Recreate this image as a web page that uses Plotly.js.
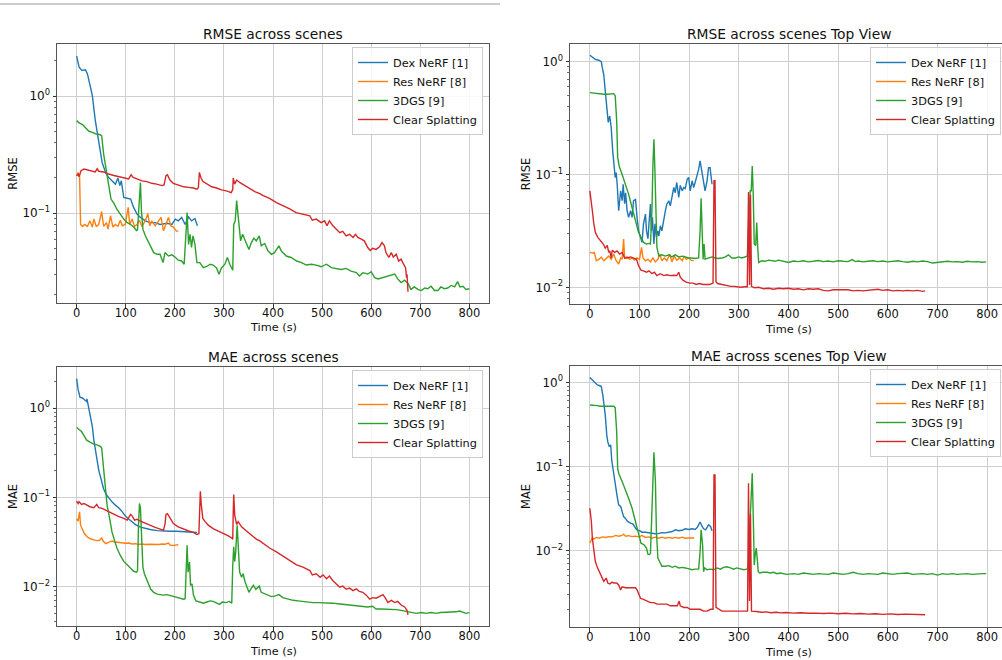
<!DOCTYPE html>
<html>
<head>
<meta charset="utf-8">
<script src="https://cdn.plot.ly/plotly-3.0.1.min.js"></script>
<style>
html,body{margin:0;padding:0;overflow:hidden;background:#fff;}
#chart{width:1012px;height:660px;}
</style>
</head>
<body>
<div id="chart"></div>
<script>
// ---------- Data (time in s, value) ----------
const seriesNames = ["Dex NeRF [1]", "Res NeRF [8]", "3DGS [9]", "Clear Splatting"];
const seriesColors = ["#1f77b4", "#ff7f0e", "#2ca02c", "#d62728"];
const panelTitles = ["RMSE across scenes", "RMSE across scenes Top View", "MAE across scenes", "MAE across scenes Top View"];
const panelYLabels = ["RMSE", "RMSE", "MAE", "MAE"];
const xLabel = "Time (s)";
const xTickVals = [0, 100, 200, 300, 400, 500, 600, 700, 800];
const yTickVals = [0.01, 0.1, 1];
const yTickText = ["10<sup>−2</sup>", "10<sup>−1</sup>", "10<sup>0</sup>"];

// RMSE across scenes
const rmseDex = [[0,2.2],[5,1.77],[11,1.66],[18,1.68],[22,1.55],[27,1.28],[32,1.01],[38,0.62],[45,0.39],[52,0.27],[59,0.223],[65,0.202],[72,0.189],[79,0.177],[84,0.2],[88,0.172],[91,0.189],[96,0.136],[103,0.134],[110,0.132],[116,0.112],[123,0.098],[130,0.092],[140,0.086],[150,0.083],[160,0.083],[170,0.080],[184,0.082],[194,0.080],[201,0.089],[207,0.086],[214,0.092],[221,0.080],[228,0.093],[234,0.086],[241,0.090],[246,0.078]];
const rmseRes = [[0,0.209],[3,0.223],[6,0.209],[8,0.08],[12,0.077],[16,0.08],[22,0.077],[27,0.086],[32,0.076],[35,0.089],[40,0.077],[45,0.08],[51,0.103],[55,0.077],[61,0.083],[64,0.073],[69,0.095],[74,0.076],[79,0.08],[84,0.077],[89,0.087],[93,0.078],[99,0.08],[105,0.112],[108,0.08],[113,0.089],[118,0.077],[123,0.08],[128,0.087],[133,0.077],[140,0.086],[145,0.099],[149,0.078],[153,0.086],[160,0.078],[167,0.086],[172,0.092],[177,0.0706],[182,0.08],[187,0.092],[192,0.078],[197,0.076],[203,0.0706],[207,0.0698]];
const rmse3dgs = [[0,0.618],[5,0.59],[12,0.571],[18,0.542],[25,0.501],[32,0.49],[40,0.475],[47,0.47],[51,0.46],[55,0.32],[60,0.231],[66,0.155],[70,0.132],[76,0.121],[82,0.108],[89,0.098],[96,0.089],[103,0.083],[110,0.08],[116,0.076],[122,0.071],[124,0.072],[127,0.128],[130,0.183],[132,0.105],[135,0.073],[140,0.064],[145,0.058],[150,0.054],[157,0.046],[164,0.0445],[170,0.0445],[176,0.0378],[180,0.046],[187,0.043],[194,0.044],[201,0.042],[207,0.0396],[214,0.039],[219,0.0366],[223,0.0706],[225,0.101],[228,0.054],[231,0.066],[234,0.051],[237,0.064],[241,0.054],[245,0.0378],[251,0.0378],[258,0.0342],[265,0.035],[272,0.0366],[278,0.036],[285,0.034],[290,0.030],[295,0.034],[302,0.0366],[307,0.0417],[312,0.0366],[318,0.0325],[320,0.08],[323,0.086],[326,0.128],[330,0.086],[334,0.058],[338,0.066],[343,0.058],[347,0.054],[351,0.049],[356,0.056],[361,0.061],[366,0.058],[372,0.064],[376,0.0525],[383,0.055],[390,0.0475],[397,0.0445],[403,0.046],[412,0.0525],[417,0.0475],[427,0.043],[437,0.0418],[448,0.039],[458,0.0378],[468,0.036],[478,0.0366],[488,0.036],[498,0.0348],[509,0.0366],[519,0.0342],[529,0.0337],[539,0.033],[549,0.0337],[559,0.032],[570,0.031],[576,0.029],[583,0.031],[593,0.0302],[600,0.0316],[607,0.0281],[614,0.0274],[620,0.0278],[627,0.0286],[637,0.029],[648,0.0302],[654,0.0274],[661,0.0255],[668,0.0267],[675,0.0251],[681,0.0223],[688,0.0234],[695,0.0223],[702,0.0218],[709,0.0229],[715,0.0226],[722,0.0237],[729,0.0218],[736,0.0218],[742,0.0234],[749,0.0226],[756,0.0229],[763,0.0241],[770,0.0234],[776,0.026],[781,0.0234],[787,0.0237],[793,0.0223],[800,0.0226]];
const rmseClear = [[0,0.209],[3,0.216],[5,0.205],[9,0.231],[15,0.238],[22,0.234],[32,0.228],[38,0.225],[42,0.24],[45,0.228],[55,0.225],[65,0.216],[76,0.21],[86,0.205],[96,0.2],[106,0.196],[111,0.213],[115,0.202],[123,0.196],[133,0.189],[143,0.186],[153,0.18],[163,0.177],[174,0.172],[178,0.174],[182,0.209],[185,0.213],[190,0.192],[197,0.18],[207,0.174],[218,0.168],[228,0.166],[238,0.164],[245,0.16],[248,0.165],[250,0.223],[253,0.202],[257,0.187],[265,0.177],[275,0.168],[285,0.164],[295,0.158],[305,0.155],[315,0.15],[318,0.16],[319,0.2],[322,0.177],[326,0.192],[332,0.183],[342,0.172],[353,0.163],[363,0.153],[373,0.147],[380,0.141],[393,0.134],[407,0.123],[420,0.116],[434,0.109],[447,0.101],[461,0.098],[475,0.095],[480,0.087],[488,0.089],[498,0.083],[505,0.086],[510,0.078],[515,0.086],[522,0.078],[529,0.0731],[536,0.068],[542,0.0698],[549,0.064],[556,0.066],[563,0.062],[568,0.066],[573,0.062],[580,0.06],[586,0.058],[593,0.0508],[598,0.048],[603,0.05],[610,0.049],[617,0.0515],[622,0.056],[627,0.0525],[630,0.046],[636,0.0418],[641,0.046],[645,0.0422],[651,0.0445],[656,0.039],[661,0.0405],[666,0.0366],[670,0.0342],[672,0.0281],[673,0.030],[675,0.0213]];

// RMSE across scenes Top View
const rmseTopDex = [[0,1.14],[5,1.1],[11,1.05],[18,1.03],[23,1.0],[25,0.885],[28,0.77],[31,0.55],[35,0.37],[37,0.29],[40,0.33],[43,0.26],[46,0.162],[48,0.137],[51,0.094],[53,0.104],[55,0.082],[58,0.0477],[62,0.0717],[65,0.0585],[67,0.082],[70,0.055],[72,0.069],[75,0.0477],[78,0.0417],[82,0.0477],[85,0.0417],[88,0.0585],[92,0.06],[95,0.0417],[98,0.0317],[102,0.0277],[105,0.025],[108,0.0365],[112,0.0446],[114,0.0317],[117,0.027],[119,0.0365],[122,0.0546],[124,0.0317],[126,0.0417],[129,0.0242],[131,0.0365],[134,0.0277],[137,0.0317],[139,0.0285],[142,0.0351],[145,0.0317],[149,0.0417],[152,0.0477],[155,0.0546],[159,0.0585],[162,0.0528],[165,0.0626],[169,0.0767],[172,0.069],[175,0.085],[179,0.0626],[182,0.08],[186,0.0717],[189,0.0767],[192,0.075],[196,0.091],[199,0.094],[202,0.0717],[206,0.088],[209,0.0767],[212,0.085],[216,0.097],[219,0.111],[222,0.132],[226,0.104],[229,0.082],[232,0.0717],[236,0.088],[239,0.115],[242,0.115],[246,0.082]];
const rmseTopRes = [[0,0.0204],[5,0.0201],[9,0.0204],[13,0.0172],[18,0.0177],[23,0.0185],[28,0.0172],[33,0.0182],[38,0.0189],[43,0.0177],[48,0.0197],[53,0.0172],[58,0.0161],[62,0.0182],[65,0.0177],[68,0.0268],[70,0.0182],[75,0.0186],[80,0.0177],[85,0.0182],[90,0.0174],[95,0.0182],[100,0.0177],[104,0.0226],[107,0.0182],[112,0.0172],[117,0.0177],[122,0.0168],[127,0.0182],[132,0.0168],[137,0.0177],[141,0.0197],[145,0.0172],[150,0.0182],[155,0.0172],[161,0.0197],[165,0.0168],[170,0.0189],[175,0.0174],[181,0.0182],[186,0.0172],[190,0.0189],[194,0.0177],[199,0.0182],[204,0.0174],[209,0.0172]];
const rmseTop3dgs = [[0,0.532],[8,0.525],[15,0.521],[21,0.514],[28,0.514],[35,0.514],[41,0.514],[48,0.521],[51,0.5],[54,0.3],[56,0.142],[59,0.119],[65,0.1],[72,0.082],[78,0.067],[85,0.051],[92,0.039],[98,0.0307],[103,0.0277],[108,0.025],[114,0.0242],[119,0.0245],[122,0.0242],[125,0.0477],[127,0.123],[129,0.205],[131,0.108],[133,0.0417],[135,0.0226],[139,0.0189],[145,0.0194],[152,0.0189],[159,0.0194],[165,0.0186],[172,0.0194],[179,0.0186],[186,0.0189],[192,0.0186],[199,0.0182],[206,0.0182],[212,0.018],[219,0.0182],[222,0.0317],[224,0.0617],[226,0.0317],[228,0.0177],[230,0.0242],[232,0.0177],[239,0.0182],[246,0.0186],[253,0.0182],[259,0.018],[266,0.0182],[273,0.0186],[279,0.0194],[286,0.0182],[293,0.0182],[300,0.0186],[306,0.0182],[313,0.0186],[317,0.0189],[320,0.039],[323,0.0717],[325,0.0717],[327,0.119],[329,0.067],[331,0.0242],[334,0.0235],[336,0.0376],[338,0.0226],[340,0.0166],[346,0.0172],[353,0.017],[360,0.0174],[366,0.0172],[373,0.017],[380,0.0174],[387,0.0172],[393,0.017],[400,0.0166],[410,0.0171],[420,0.0169],[430,0.0172],[440,0.0168],[450,0.017],[460,0.0173],[470,0.0169],[480,0.0171],[490,0.0168],[500,0.0172],[510,0.017],[520,0.0169],[528,0.0176],[535,0.0169],[540,0.0171],[550,0.0168],[560,0.017],[570,0.0172],[580,0.0169],[590,0.0171],[600,0.0168],[610,0.017],[620,0.0172],[630,0.0169],[640,0.0167],[650,0.017],[660,0.0168],[670,0.0171],[680,0.0169],[690,0.0164],[700,0.0166],[710,0.0168],[720,0.017],[730,0.0168],[740,0.0169],[750,0.0167],[760,0.017],[770,0.0168],[780,0.0169],[790,0.0167],[798,0.0168]];
const rmseTopClear = [[0,0.0717],[3,0.0585],[5,0.0477],[8,0.0365],[11,0.0307],[16,0.0277],[21,0.0259],[27,0.0242],[31,0.0222],[35,0.0235],[38,0.0204],[40,0.021],[43,0.0182],[45,0.0213],[50,0.0204],[55,0.021],[60,0.0197],[65,0.0204],[70,0.0182],[75,0.0182],[82,0.0186],[88,0.0182],[94,0.0177],[98,0.0155],[103,0.0142],[108,0.014],[114,0.0136],[119,0.014],[125,0.0132],[130,0.0136],[135,0.0127],[142,0.0132],[149,0.0127],[155,0.0129],[162,0.0127],[169,0.0128],[175,0.0127],[179,0.0136],[182,0.0123],[188,0.0115],[194,0.0111],[201,0.0109],[208,0.0109],[214,0.0106],[221,0.0108],[228,0.0106],[234,0.0106],[241,0.0106],[248,0.0109],[250,0.088],[252,0.088],[254,0.0112],[257,0.0108],[264,0.0106],[271,0.0104],[277,0.0103],[284,0.0102],[291,0.0102],[297,0.0101],[304,0.01],[311,0.0101],[317,0.0101],[319.5,0.07],[321.5,0.0105],[323.5,0.066],[325.5,0.0102],[332,0.0099],[340,0.01],[350,0.0097],[360,0.0098],[370,0.0096],[380,0.0098],[390,0.0097],[400,0.0098],[410,0.0096],[420,0.0097],[430,0.0095],[440,0.0097],[450,0.0096],[460,0.0097],[470,0.0094],[480,0.0093],[490,0.0095],[500,0.0095],[510,0.0094],[520,0.0095],[530,0.0093],[540,0.0094],[550,0.0093],[560,0.0094],[570,0.0095],[580,0.0096],[590,0.0094],[600,0.0095],[610,0.0093],[620,0.0094],[630,0.0093],[640,0.0094],[650,0.0093],[660,0.0094],[670,0.0092],[675,0.0093]];

// MAE across scenes
const maeDex = [[0,2.14],[3,1.61],[7,1.32],[12,1.3],[16,1.24],[20,1.19],[21,1.27],[25,1.0],[28,0.841],[32,0.622],[35,0.44],[39,0.325],[42,0.251],[45,0.202],[49,0.166],[52,0.143],[55,0.124],[61,0.106],[66,0.097],[72,0.089],[79,0.0817],[86,0.076],[93,0.0687],[99,0.062],[106,0.057],[113,0.053],[120,0.0495],[130,0.0462],[140,0.0445],[150,0.0435],[164,0.0423],[177,0.0416],[190,0.0416],[204,0.0416],[218,0.041],[231,0.041],[245,0.0403]];
const maeRes = [[0,0.0578],[3,0.054],[5,0.064],[6,0.0686],[8,0.0487],[12,0.0427],[16,0.039],[22,0.0359],[28,0.0343],[35,0.0333],[42,0.0327],[47,0.033],[51,0.035],[54,0.0323],[59,0.0302],[66,0.0315],[72,0.0323],[79,0.0315],[86,0.031],[93,0.031],[99,0.0305],[106,0.0307],[113,0.03],[120,0.0302],[126,0.0296],[133,0.03],[140,0.0296],[147,0.0298],[153,0.0296],[160,0.0298],[167,0.0296],[174,0.03],[180,0.0298],[187,0.0307],[191,0.0289],[197,0.0289],[203,0.0294],[207,0.0294]];
const mae3dgs = [[0,0.606],[5,0.57],[10,0.546],[15,0.492],[20,0.44],[27,0.415],[35,0.394],[42,0.387],[49,0.37],[51,0.355],[55,0.194],[59,0.115],[62,0.0817],[66,0.063],[69,0.0508],[72,0.0409],[76,0.0344],[82,0.027],[89,0.0223],[96,0.0191],[103,0.0175],[110,0.0161],[116,0.0148],[122,0.0145],[124,0.015],[126,0.0486],[128,0.0853],[130,0.075],[132,0.0316],[135,0.0164],[138,0.0139],[142,0.0122],[147,0.0103],[151,0.0093],[157,0.0086],[164,0.0082],[170,0.0081],[177,0.008],[184,0.0081],[191,0.0079],[197,0.0077],[204,0.0075],[211,0.0074],[218,0.0072],[221,0.0073],[223,0.0172],[225,0.029],[227,0.0145],[230,0.0188],[232,0.0103],[235,0.0107],[238,0.008],[243,0.0069],[251,0.0067],[258,0.0065],[265,0.0067],[272,0.0069],[278,0.0068],[285,0.0065],[291,0.0063],[297,0.0067],[304,0.0066],[311,0.0068],[316,0.0065],[318,0.0172],[320,0.0279],[322,0.019],[324,0.0243],[327,0.0486],[330,0.0243],[332,0.0145],[336,0.0127],[339,0.0139],[343,0.0113],[347,0.0096],[351,0.0086],[355,0.0094],[360,0.0103],[365,0.0093],[370,0.0099],[372,0.0101],[376,0.0086],[383,0.0083],[390,0.008],[397,0.0077],[403,0.0078],[412,0.0081],[420,0.0075],[431,0.0072],[441,0.007],[451,0.0069],[461,0.0068],[471,0.0066],[481,0.0066],[492,0.0066],[502,0.0066],[512,0.0065],[522,0.0065],[532,0.0064],[542,0.0063],[553,0.0062],[563,0.0061],[573,0.0061],[583,0.006],[593,0.0059],[603,0.006],[610,0.0056],[620,0.0056],[631,0.0056],[641,0.0055],[651,0.0055],[661,0.0054],[671,0.0053],[681,0.0052],[692,0.005],[702,0.0051],[712,0.005],[722,0.0051],[732,0.005],[742,0.0051],[753,0.0051],[763,0.0051],[773,0.0052],[780,0.0053],[787,0.0051],[793,0.005],[800,0.0051]];
const maeClear = [[0,0.0906],[3,0.0852],[5,0.0892],[10,0.0833],[15,0.0852],[20,0.0817],[27,0.0784],[35,0.0764],[41,0.0833],[45,0.0764],[52,0.0751],[59,0.072],[66,0.0687],[76,0.0644],[86,0.0606],[96,0.058],[103,0.0555],[110,0.0644],[113,0.062],[118,0.0555],[123,0.0567],[130,0.0539],[140,0.0508],[150,0.0487],[160,0.0459],[170,0.044],[177,0.0428],[180,0.05],[182,0.0644],[185,0.0657],[191,0.058],[197,0.0508],[207,0.0467],[218,0.044],[228,0.0419],[238,0.0404],[245,0.0383],[249,0.039],[250,0.0534],[252,0.117],[254,0.0817],[257,0.058],[262,0.0534],[268,0.0487],[278,0.0446],[289,0.0419],[299,0.0394],[309,0.0369],[316,0.035],[318,0.0338],[319,0.0687],[320,0.1076],[322,0.063],[326,0.0495],[329,0.0534],[336,0.0467],[346,0.0419],[356,0.0378],[366,0.034],[373,0.0325],[380,0.0302],[393,0.027],[407,0.0244],[420,0.0221],[434,0.0196],[448,0.0175],[461,0.0165],[475,0.0151],[480,0.0135],[488,0.0139],[496,0.0127],[502,0.0135],[509,0.0122],[515,0.0131],[522,0.0116],[529,0.0107],[536,0.0098],[542,0.0101],[549,0.0093],[556,0.0096],[563,0.009],[570,0.0094],[576,0.0088],[583,0.0086],[590,0.008],[597,0.0072],[603,0.0075],[610,0.0074],[617,0.0077],[624,0.0081],[629,0.0074],[634,0.0066],[641,0.007],[648,0.0066],[654,0.0068],[661,0.0062],[668,0.0059],[673,0.0054],[675,0.0048]];

// MAE across scenes Top View
const maeTopDex = [[0,1.14],[5,1.07],[9,1.0],[15,0.93],[20,0.91],[23,0.89],[26,0.707],[28,0.589],[31,0.41],[34,0.237],[36,0.197],[39,0.172],[42,0.18],[44,0.119],[47,0.087],[50,0.069],[52,0.055],[55,0.0438],[58,0.0349],[62,0.0334],[65,0.029],[68,0.0253],[72,0.0239],[76,0.0222],[82,0.0212],[87,0.0206],[92,0.0184],[95,0.0176],[101,0.0171],[105,0.0165],[112,0.0165],[119,0.0162],[125,0.016],[132,0.0158],[139,0.016],[145,0.0163],[152,0.0162],[159,0.0165],[166,0.0168],[172,0.0176],[179,0.0172],[186,0.0174],[192,0.0181],[199,0.0178],[206,0.0181],[212,0.0178],[216,0.0187],[219,0.0202],[222,0.0218],[226,0.0193],[229,0.0181],[233,0.0176],[236,0.0193],[239,0.0202],[243,0.0193],[246,0.0171]];
const maeTopRes = [[0,0.0122],[3,0.0133],[5,0.0143],[8,0.0137],[13,0.0143],[19,0.014],[25,0.0145],[32,0.0143],[38,0.0146],[45,0.0145],[52,0.0151],[58,0.0148],[65,0.0151],[68,0.0156],[72,0.0148],[78,0.015],[85,0.0146],[92,0.0148],[99,0.0145],[105,0.0151],[112,0.0143],[119,0.0145],[125,0.014],[132,0.0144],[139,0.014],[145,0.0144],[152,0.014],[159,0.0143],[166,0.014],[172,0.0143],[179,0.014],[186,0.0144],[192,0.014],[199,0.0141],[206,0.014],[210,0.0141]];
const maeTop3dgs = [[0,0.538],[8,0.538],[15,0.528],[21,0.519],[28,0.519],[35,0.514],[42,0.519],[48,0.519],[51,0.5],[54,0.26],[56,0.095],[58,0.083],[65,0.066],[72,0.0526],[78,0.0419],[85,0.0318],[92,0.0221],[99,0.0153],[103,0.0122],[109,0.0117],[114,0.0107],[117,0.009],[119,0.0089],[122,0.0092],[125,0.0349],[127,0.087],[129,0.147],[132,0.066],[134,0.0168],[137,0.0081],[141,0.0071],[145,0.0065],[152,0.0065],[159,0.0066],[166,0.0063],[172,0.0065],[179,0.0062],[186,0.0063],[192,0.0062],[199,0.006],[206,0.0059],[212,0.006],[219,0.006],[222,0.0097],[224,0.0176],[227,0.0117],[229,0.0056],[231,0.0062],[236,0.0059],[243,0.006],[249,0.0059],[256,0.0062],[263,0.006],[269,0.0063],[276,0.0064],[283,0.0062],[289,0.006],[296,0.0062],[303,0.006],[310,0.0059],[316,0.006],[319,0.0063],[321,0.014],[323,0.029],[325,0.05],[327,0.083],[329,0.0263],[331,0.0067],[333,0.0089],[335,0.0107],[337,0.0081],[339,0.0056],[342,0.0054],[348,0.0055],[357,0.0055],[363,0.0054],[370,0.0055],[377,0.0053],[383,0.0054],[390,0.0053],[397,0.0052],[410,0.0053],[420,0.0052],[430,0.0054],[440,0.0053],[450,0.0052],[460,0.0053],[470,0.0053],[480,0.0052],[490,0.0054],[500,0.0053],[510,0.0052],[520,0.0053],[530,0.0055],[540,0.0053],[550,0.0052],[560,0.0053],[570,0.0053],[580,0.0052],[590,0.0054],[600,0.0053],[610,0.0052],[620,0.0053],[630,0.0053],[640,0.0054],[650,0.0052],[660,0.0053],[670,0.0053],[680,0.0052],[690,0.0053],[700,0.0051],[710,0.0053],[720,0.0052],[730,0.0053],[740,0.0052],[750,0.0053],[760,0.0053],[770,0.0052],[780,0.0053],[790,0.0053],[798,0.0053]];
const maeTopClear = [[0,0.0318],[3,0.0221],[5,0.014],[8,0.0097],[11,0.0074],[15,0.0063],[20,0.0054],[25,0.0047],[28,0.0043],[33,0.0047],[36,0.0041],[40,0.004],[45,0.0042],[48,0.0041],[54,0.0041],[58,0.0039],[62,0.0034],[65,0.0037],[72,0.0036],[78,0.0036],[85,0.0036],[92,0.0036],[95,0.0034],[99,0.003],[102,0.0027],[109,0.0026],[115,0.0025],[122,0.0024],[129,0.0024],[135,0.0023],[142,0.0023],[149,0.0023],[155,0.0023],[162,0.0022],[169,0.0022],[176,0.0022],[180,0.0025],[182,0.0022],[189,0.0021],[196,0.0021],[202,0.002],[209,0.002],[216,0.002],[222,0.002],[229,0.0019],[236,0.0019],[243,0.002],[248,0.002],[250,0.079],[252,0.079],[254,0.0021],[259,0.002],[266,0.0019],[273,0.0019],[279,0.0019],[286,0.0019],[293,0.0019],[300,0.0019],[306,0.0019],[313,0.0019],[317.5,0.0019],[319.5,0.063],[321.5,0.0025],[323.5,0.027],[325.5,0.0019],[335,0.00188],[345,0.00184],[355,0.00186],[365,0.00182],[375,0.00184],[385,0.00181],[395,0.00183],[410,0.0018],[425,0.00182],[440,0.00179],[455,0.0018],[470,0.00178],[485,0.0018],[500,0.00177],[515,0.00179],[530,0.00176],[545,0.00178],[560,0.00175],[575,0.00177],[590,0.00174],[605,0.00176],[620,0.00173],[635,0.00175],[650,0.00174],[665,0.00172],[675,0.00172]];

const panelData = [
  [rmseDex, rmseRes, rmse3dgs, rmseClear],
  [rmseTopDex, rmseTopRes, rmseTop3dgs, rmseTopClear],
  [maeDex, maeRes, mae3dgs, maeClear],
  [maeTopDex, maeTopRes, maeTop3dgs, maeTopClear]
];

// ---------- Layout geometry (pixels in a 1012x660 canvas) ----------
const W = 1012, H = 660;
const FONT = "DejaVu Sans, Liberation Sans, sans-serif";
const TXT = "#111";
const boxes = [
  {l:57,  r:489,  t:44,  b:303, yr:[-1.768, 0.446], xt:327},
  {l:570, r:1007, t:44,  b:304, yr:[-2.148, 0.157], xt:329},
  {l:57,  r:489,  t:367, b:626, yr:[-2.443, 0.461], xt:651},
  {l:570, r:1007, t:366, b:627, yr:[-2.91, 0.194],  xt:652}
];

const minorVals = [];
for (let d = -3; d <= 1; d++) for (let k = 2; k <= 9; k++) minorVals.push(k * Math.pow(10, d));

const traces = [];
const layout = {
  width: W, height: H,
  margin: {l:0, r:0, t:0, b:0},
  paper_bgcolor: "#ffffff",
  plot_bgcolor: "#ffffff",
  font: {family: FONT, size: 11, color: TXT},
  annotations: [],
  shapes: [{type:"line", xref:"paper", yref:"paper", x0:0, x1:500/W, y0:1-4/H, y1:1-4/H, line:{color:"#bdbdbd", width:1.5}}]
};

boxes.forEach((bx, i) => {
  const n = i === 0 ? "" : String(i + 1);
  const legName = i === 0 ? "legend" : "legend" + (i + 1);
  layout["xaxis" + n] = {
    domain: [bx.l / W, bx.r / W], anchor: "y" + n,
    range: [-40, 840], tickmode: "array", tickvals: xTickVals,
    ticks: "outside", ticklen: 3.5, tickwidth: 1, tickcolor: "#333",
    ticklabelstandoff: -4,
    showgrid: true, gridcolor: "#cfcfcf", gridwidth: 1,
    zeroline: false, showline: true, mirror: true, linecolor: "#555", linewidth: 1,
    tickfont: {family: FONT, size: 11.5, color: TXT}
  };
  layout["yaxis" + n] = {
    domain: [1 - bx.b / H, 1 - bx.t / H], anchor: "x" + n,
    type: "log", range: bx.yr,
    tickmode: "array", tickvals: yTickVals, ticktext: yTickText,
    ticks: "outside", ticklen: 3.5, tickwidth: 1, tickcolor: "#333",
    minor: {tickmode: "array", tickvals: minorVals, ticks: "outside", ticklen: 2, tickwidth: 0.7, tickcolor: "#333", showgrid: false},
    showgrid: true, gridcolor: "#cfcfcf", gridwidth: 1,
    zeroline: false, showline: true, mirror: true, linecolor: "#555", linewidth: 1,
    tickfont: {family: FONT, size: 12, color: TXT},
    title: {text: panelYLabels[i], font: {family: FONT, size: 11.5, color: TXT}, standoff: 2}
  };
  layout[legName] = {
    x: (bx.r - 6) / W, y: 1 - (bx.t + 3) / H, xanchor: "right", yanchor: "top",
    bgcolor: "rgba(255,255,255,0.85)", bordercolor: "#cccccc", borderwidth: 1,
    font: {family: FONT, size: 11.3, color: TXT}, itemwidth: 30, tracegroupgap: 0
  };
  // subplot title
  layout.annotations.push({
    text: panelTitles[i], xref: "paper", yref: "paper",
    x: (bx.l + bx.r) / 2 / W, y: 1 - bx.t / H, xanchor: "center", yanchor: "bottom",
    yshift: 0, showarrow: false, font: {family: FONT, size: 13.8, color: TXT}
  });
  // x-axis label
  layout.annotations.push({
    text: xLabel, xref: "paper", yref: "paper",
    x: (bx.l + bx.r) / 2 / W, y: 1 - bx.xt / H, xanchor: "center", yanchor: "middle",
    showarrow: false, font: {family: FONT, size: 11.3, color: TXT}
  });
  panelData[i].forEach((ser, j) => {
    traces.push({
      type: "scatter", mode: "lines",
      x: ser.map(p => p[0]), y: ser.map(p => p[1]),
      name: seriesNames[j], legend: legName,
      xaxis: "x" + n, yaxis: "y" + n,
      line: {color: seriesColors[j], width: 1.4},
      showlegend: true, hoverinfo: "skip"
    });
  });
});

Plotly.newPlot("chart", traces, layout, {displayModeBar: false, staticPlot: true});
</script>
</body>
</html>
